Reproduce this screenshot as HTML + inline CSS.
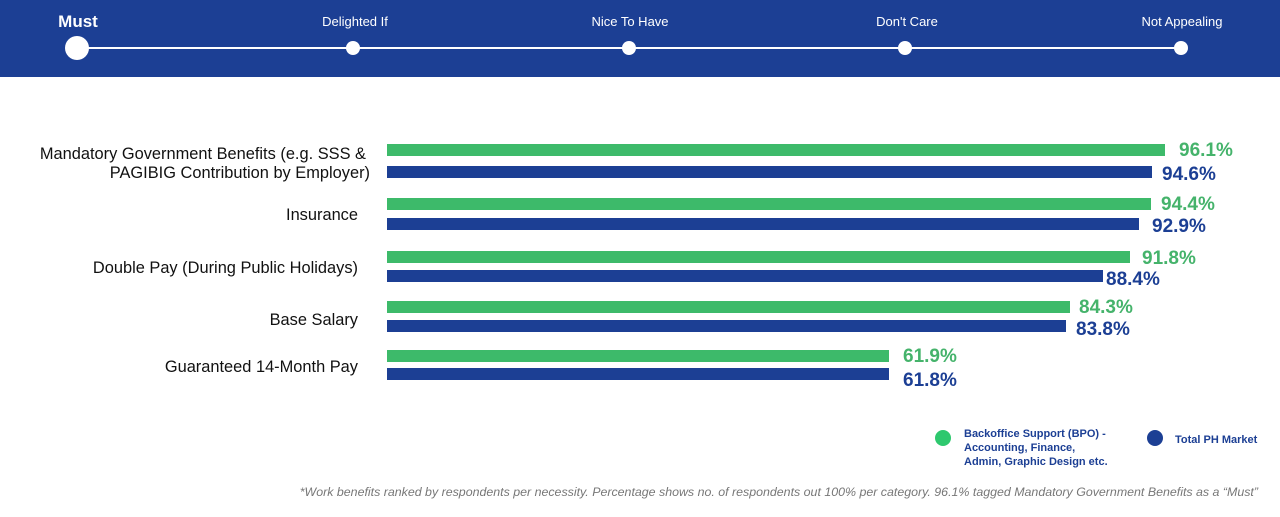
<!DOCTYPE html>
<html><head><meta charset="utf-8"><style>
body{margin:0;width:1280px;height:512px;background:#fff;overflow:hidden;font-family:"Liberation Sans",sans-serif}
</style></head><body>
<svg width="1280" height="512" xmlns="http://www.w3.org/2000/svg" font-family="Liberation Sans, sans-serif">
<rect x="0" y="0" width="1280" height="77" fill="#1c3f94"/>
<line x1="77" y1="48" x2="1181" y2="48" stroke="#fff" stroke-width="2"/>
<circle cx="77" cy="48" r="12" fill="#fff"/>
<circle cx="353" cy="48" r="7" fill="#fff"/>
<circle cx="629" cy="48" r="7" fill="#fff"/>
<circle cx="905" cy="48" r="7" fill="#fff"/>
<circle cx="1181" cy="48" r="7" fill="#fff"/>
<g fill="#fff" font-size="13" text-anchor="middle">
<text x="78" y="27" font-size="17" font-weight="bold">Must</text>
<text x="355" y="26">Delighted If</text>
<text x="630" y="26">Nice To Have</text>
<text x="907" y="26">Don't Care</text>
<text x="1182" y="26">Not Appealing</text>
</g>
<g fill="#3dba6a">
<rect x="387" y="144" width="778" height="12"/>
<rect x="387" y="198" width="764" height="12"/>
<rect x="387" y="251" width="743" height="12"/>
<rect x="387" y="301" width="683" height="12"/>
<rect x="387" y="350" width="502" height="12"/>
</g>
<g fill="#1c3f94">
<rect x="387" y="166" width="765" height="12"/>
<rect x="387" y="218" width="752" height="12"/>
<rect x="387" y="270" width="716" height="12"/>
<rect x="387" y="320" width="679" height="12"/>
<rect x="387" y="368" width="502" height="12"/>
</g>
<g font-size="19" font-weight="bold">
<g fill="#45b36b">
<text x="1179" y="156">96.1%</text>
<text x="1161" y="210">94.4%</text>
<text x="1142" y="264">91.8%</text>
<text x="1079" y="313">84.3%</text>
<text x="903" y="362">61.9%</text>
</g>
<g fill="#1c3f94">
<text x="1162" y="180">94.6%</text>
<text x="1152" y="232">92.9%</text>
<text x="1106" y="285">88.4%</text>
<text x="1076" y="335">83.8%</text>
<text x="903" y="386">61.8%</text>
</g>
</g>
<g font-size="16.4" fill="#111" text-anchor="end">
<text x="366" y="159">Mandatory Government Benefits (e.g. SSS &amp;</text>
<text x="370" y="178">PAGIBIG Contribution by Employer)</text>
<text x="358" y="220">Insurance</text>
<text x="358" y="273">Double Pay (During Public Holidays)</text>
<text x="358" y="325">Base Salary</text>
<text x="358" y="372">Guaranteed 14-Month Pay</text>
</g>
<circle cx="943" cy="438" r="8" fill="#2ec86e"/>
<circle cx="1155" cy="438" r="8" fill="#1c3f94"/>
<g font-size="11" fill="#1c3f94" font-weight="bold">
<text x="964" y="437">Backoffice Support (BPO) -</text>
<text x="964" y="451">Accounting, Finance,</text>
<text x="964" y="465">Admin, Graphic Design etc.</text>
<text x="1175" y="443">Total PH Market</text>
</g>
<text x="1258" y="496" font-size="12.4" font-style="italic" fill="#777" text-anchor="end">*Work benefits ranked by respondents per necessity. Percentage shows no. of respondents out 100% per category. 96.1% tagged Mandatory Government Benefits as a “Must”</text>
</svg>
</body></html>
